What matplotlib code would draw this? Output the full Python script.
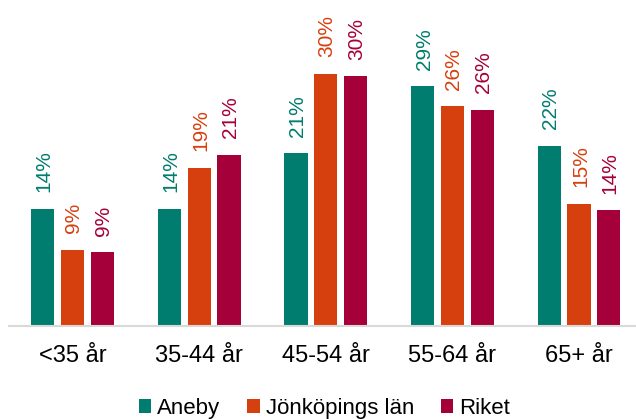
import numpy as np
import matplotlib.pyplot as plt

plt.rcParams['font.family'] = ['Liberation Sans', 'DejaVu Sans']

categories = ['<35 år', '35-44 år', '45-54 år', '55-64 år', '65+ år']
series = ['Aneby', 'Jönköpings län', 'Riket']
aneby = [14.0, 14.0, 20.6, 28.6, 21.5]
jonkoping = [9.1, 18.9, 30.1, 26.2, 14.6]
riket = [8.8, 20.4, 29.8, 25.8, 13.8]
labels = [['14%', '14%', '21%', '29%', '22%'],
          ['9%', '19%', '30%', '26%', '15%'],
          ['9%', '21%', '30%', '26%', '14%']]
colors = ['#007D6E', '#D6400F', '#A6003A']

fig = plt.figure(figsize=(6.36, 4.19), dpi=100)
ax = fig.add_axes([9.25 / 636, 93 / 419, 1 - 9.25 / 636, 326 / 419])

x = np.arange(len(categories))
w = 0.184
step = 0.235
for i, (vals, c) in enumerate(zip([aneby, jonkoping, riket], colors)):
    pos = x + (i - 1) * step
    ax.bar(pos, vals, width=w, color=c, label=series[i], zorder=2)
    for p, v, t in zip(pos, vals, labels[i]):
        ax.annotate(t, (p, v), xytext=(1, 12), textcoords='offset points',
                    rotation=90, ha='center', va='bottom', color=c, fontsize=15)

ax.set_xlim(-0.5, 4.45)
ax.set_ylim(0, 38.9)
ax.set_xticks(x)
ax.set_xticklabels(categories, fontsize=17)
ax.tick_params(axis='x', length=0, pad=14)
ax.set_yticks([])
for s in ['top', 'right', 'left']:
    ax.spines[s].set_visible(False)
ax.spines['bottom'].set_color('#d9d9d9')
ax.spines['bottom'].set_linewidth(1.5)

fig.legend(loc='center', bbox_to_anchor=(0.51, 0.026), ncol=3, frameon=False,
           fontsize=16, handlelength=0.57, handleheight=0.57, handletextpad=0.27,
           columnspacing=1.2, borderaxespad=0)

fig.savefig('out.png', dpi=100)
